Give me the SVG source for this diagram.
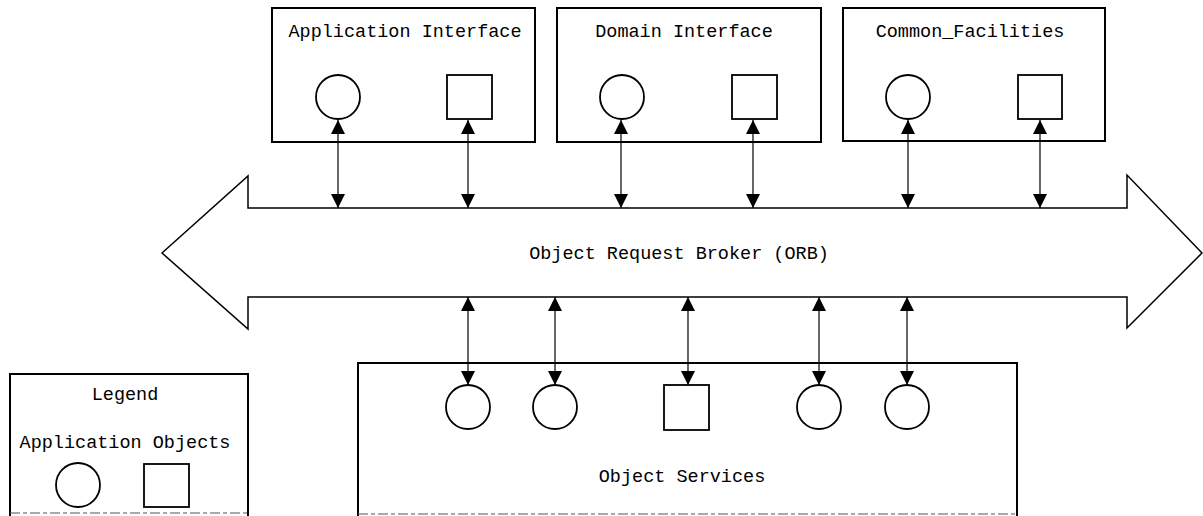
<svg xmlns="http://www.w3.org/2000/svg" width="1203" height="516" viewBox="0 0 1203 516">
<style>
.box{fill:none;stroke:#000;stroke-width:2}
.obj{fill:#fff;stroke:#000;stroke-width:1.8}
.orb{fill:#fff;stroke:#000;stroke-width:1.5;stroke-linejoin:miter}
.conn{stroke:#000;stroke-width:1.2;fill:none;marker-start:url(#ah);marker-end:url(#ah)}
.lbl{font-family:"Liberation Mono","DejaVu Sans Mono",monospace;font-size:18.5px;fill:#000;text-anchor:middle}
.faint{stroke:#555;stroke-width:1.2;stroke-dasharray:10 3 4 3;fill:none}
</style>
<defs>
<marker id="ah" viewBox="0 0 14 14" refX="14" refY="7" markerWidth="14" markerHeight="14" markerUnits="userSpaceOnUse" orient="auto-start-reverse">
<path d="M0,0 L14,7 L0,14 z" fill="#000"/>
</marker>
</defs>
<rect width="1203" height="516" fill="#fff"/>
<g id="orb">
<polygon class="orb" points="162,253 248,176 248,208 1127,208 1127,175 1202,253 1127,328 1127,297 248,297 248,329"/>
<text class="lbl" x="679" y="259">Object Request Broker (ORB)</text>
</g>
<g id="app-interface">
<rect class="box" x="272" y="8" width="263" height="134"/>
<text class="lbl" x="405" y="37">Application Interface</text>
<circle class="obj" cx="338" cy="97" r="22"/>
<rect class="obj" x="447" y="75" width="45" height="44"/>
</g>
<g id="domain-interface">
<rect class="box" x="557" y="8" width="264" height="134"/>
<text class="lbl" x="684" y="37">Domain Interface</text>
<circle class="obj" cx="622" cy="97" r="22"/>
<rect class="obj" x="732" y="75" width="45" height="44"/>
</g>
<g id="common-facilities">
<rect class="box" x="843" y="8" width="262" height="133"/>
<text class="lbl" x="970" y="37">Common_Facilities</text>
<circle class="obj" cx="908" cy="97" r="22"/>
<rect class="obj" x="1018" y="75" width="44" height="44"/>
</g>
<g id="object-services">
<path class="box" d="M358,516 L358,363 L1017,363 L1017,516"/>
<line class="faint" x1="358" y1="514" x2="1017" y2="514"/>
<text class="lbl" x="682" y="482">Object Services</text>
<circle class="obj" cx="468" cy="407" r="22"/>
<circle class="obj" cx="555" cy="407" r="22"/>
<rect class="obj" x="664" y="385" width="45" height="45"/>
<circle class="obj" cx="819" cy="407" r="22"/>
<circle class="obj" cx="907" cy="407" r="22"/>
</g>
<g id="legend">
<path class="box" d="M10,516 L10,374 L248,374 L248,516"/>
<line class="faint" x1="10" y1="513" x2="248" y2="513"/>
<text class="lbl" x="125" y="400">Legend</text>
<text class="lbl" x="125" y="448">Application Objects</text>
<circle class="obj" cx="78" cy="485" r="22"/>
<rect class="obj" x="144" y="464" width="45" height="43"/>
</g>
<g id="connectors">
<line class="conn" x1="338" y1="120" x2="338" y2="208"/>
<line class="conn" x1="468" y1="120" x2="468" y2="208"/>
<line class="conn" x1="621" y1="120" x2="621" y2="208"/>
<line class="conn" x1="753" y1="120" x2="753" y2="208"/>
<line class="conn" x1="908" y1="120" x2="908" y2="208"/>
<line class="conn" x1="1040" y1="120" x2="1040" y2="208"/>
<line class="conn" x1="468" y1="297" x2="468" y2="385"/>
<line class="conn" x1="555" y1="297" x2="555" y2="385"/>
<line class="conn" x1="688" y1="297" x2="688" y2="385"/>
<line class="conn" x1="819" y1="297" x2="819" y2="385"/>
<line class="conn" x1="907" y1="297" x2="907" y2="385"/>
</g>
</svg>
